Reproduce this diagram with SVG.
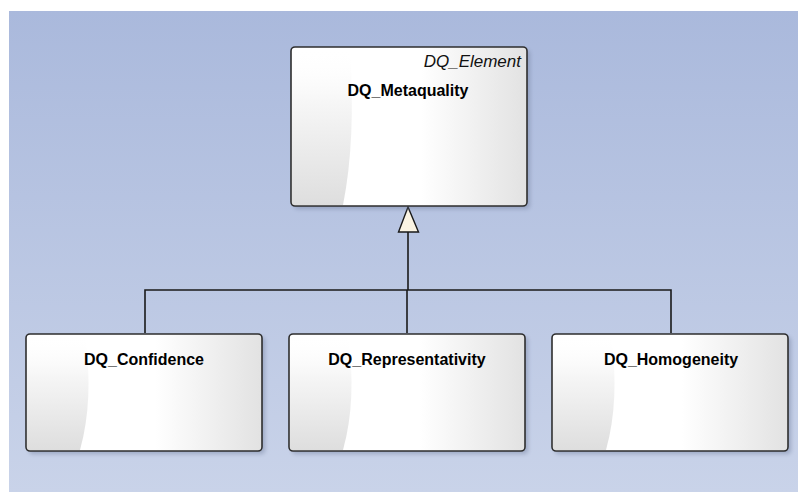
<svg xmlns="http://www.w3.org/2000/svg" width="798" height="492" viewBox="0 0 798 492">
<defs>
<linearGradient id="bg" x1="0" y1="0" x2="0" y2="1">
<stop offset="0" stop-color="#aab9dc"/>
<stop offset="1" stop-color="#c9d3e9"/>
</linearGradient>
<linearGradient id="boxH" x1="0" y1="0" x2="1" y2="0">
<stop offset="0" stop-color="#ffffff"/>
<stop offset="0.55" stop-color="#ffffff"/>
<stop offset="1" stop-color="#e2e2e2"/>
</linearGradient>
<linearGradient id="boxL" x1="0" y1="0" x2="0" y2="1">
<stop offset="0" stop-color="#ffffff" stop-opacity="0"/>
<stop offset="0.35" stop-color="#f6f6f6" stop-opacity="1"/>
<stop offset="1" stop-color="#dedede"/>
</linearGradient>
<filter id="sh" x="-10%" y="-10%" width="130%" height="130%">
<feGaussianBlur stdDeviation="2"/>
</filter>
</defs>
<style>
.shadow{fill:#6d7a99;opacity:0.45;filter:url(#sh)}
.body{fill:url(#boxH)}
.left{fill:url(#boxL)}
.frame{fill:none;stroke:#2e2e2e;stroke-width:1.6}
.name{font-family:"Liberation Sans",Arial,sans-serif;font-weight:bold;font-size:16px;fill:#000;text-anchor:middle}
.stereo{font-family:"Liberation Sans",Arial,sans-serif;font-style:italic;font-size:17px;fill:#111;text-anchor:end}
.conn{fill:none;stroke:#1a1a1a;stroke-width:1.6}
.head{fill:#fbf4e3;stroke:#1a1a1a;stroke-width:1.4;stroke-linejoin:miter}
</style>
<rect x="9" y="11" width="789" height="481" fill="url(#bg)"/>

<g id="connectors">
<polyline class="conn" points="408,232 408,290"/>
<polyline class="conn" points="145,333 145,290 671,290 671,333"/>
<polyline class="conn" points="407,290 407,333"/>
<polygon class="head" points="408,207 398.5,232 418.5,232"/>
</g>

<g id="DQ_Metaquality">
<rect class="shadow" x="294" y="50" width="236" height="159" rx="4"/>
<rect class="body" x="291" y="47" width="236" height="159" rx="4"/>
<path class="left" d="M292,48 L350,48 Q356,140 343,205 L292,205 Z"/>
<rect class="frame" x="291" y="47" width="236" height="159" rx="4"/>
<text class="stereo" x="521" y="67">DQ_Element</text>
<text class="name" x="408" y="96">DQ_Metaquality</text>
</g>

<g id="DQ_Confidence">
<rect class="shadow" x="29" y="337" width="236" height="117" rx="4"/>
<rect class="body" x="26" y="334" width="236" height="117" rx="4"/>
<path class="left" d="M27,335 L85,335 Q94,400 80,450 L27,450 Z"/>
<rect class="frame" x="26" y="334" width="236" height="117" rx="4"/>
<text class="name" x="144" y="365">DQ_Confidence</text>
</g>

<g id="DQ_Representativity">
<rect class="shadow" x="292" y="337" width="236" height="117" rx="4"/>
<rect class="body" x="289" y="334" width="236" height="117" rx="4"/>
<path class="left" d="M290,335 L348,335 Q357,400 343,450 L290,450 Z"/>
<rect class="frame" x="289" y="334" width="236" height="117" rx="4"/>
<text class="name" x="407" y="365">DQ_Representativity</text>
</g>

<g id="DQ_Homogeneity">
<rect class="shadow" x="555" y="337" width="236" height="117" rx="4"/>
<rect class="body" x="552" y="334" width="236" height="117" rx="4"/>
<path class="left" d="M553,335 L611,335 Q620,400 606,450 L553,450 Z"/>
<rect class="frame" x="552" y="334" width="236" height="117" rx="4"/>
<text class="name" x="671" y="365">DQ_Homogeneity</text>
</g>
</svg>
